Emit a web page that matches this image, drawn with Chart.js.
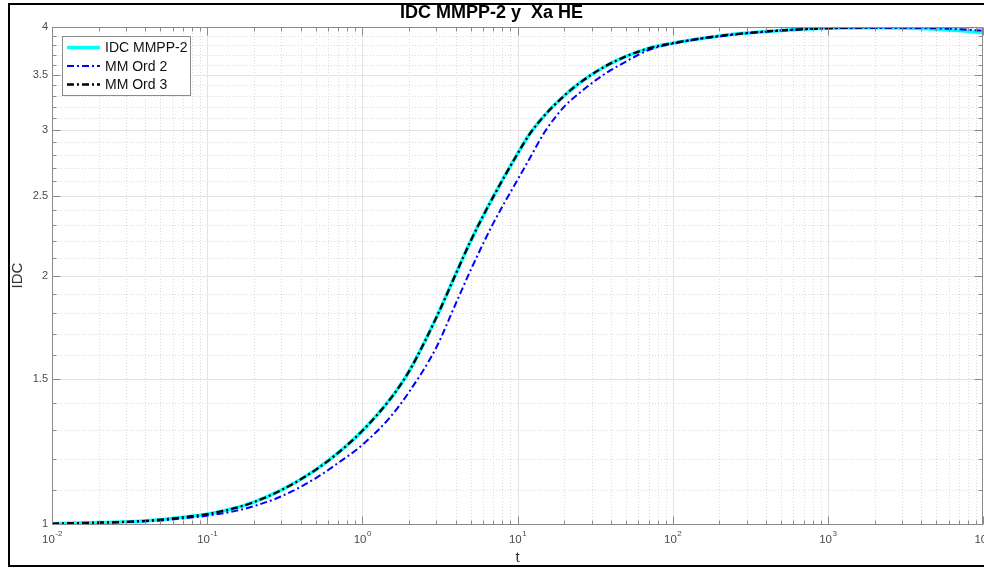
<!DOCTYPE html>
<html>
<head>
<meta charset="utf-8">
<script src="https://cdn.jsdelivr.net/npm/chart.js@4.4.0/dist/chart.umd.min.js"></script>
<style>
  html, body { margin: 0; padding: 0; background: #fff; overflow: hidden; }
  #wrap { position: relative; width: 984px; height: 569px; }
</style>
</head>
<body>
<div id="wrap"><canvas id="grafico"></canvas></div>
<script>
// tiempos t (eje x log) y valores IDC
const tiempos = [0.01, 0.02, 0.03, 0.05, 0.07, 0.1, 0.15, 0.2, 0.3, 0.5, 0.7, 1, 1.5, 2, 3, 4, 5, 7, 10, 12, 15, 20, 25, 35, 50, 70, 100, 150, 200, 300, 500, 1000, 2000, 3000, 5000, 7000, 10000];

const idcMmpp = [1.001, 1.004, 1.006, 1.012, 1.019, 1.028, 1.045, 1.063, 1.099, 1.163, 1.220, 1.297, 1.414, 1.531, 1.779, 2.008, 2.204, 2.494, 2.808, 2.969, 3.129, 3.302, 3.419, 3.566, 3.686, 3.769, 3.824, 3.872, 3.901, 3.933, 3.962, 3.987, 3.992, 3.988, 3.975, 3.960, 3.935];

const mmOrd2 = [1.000, 1.0035, 1.0057, 1.010, 1.0157, 1.0235, 1.0366, 1.051, 1.080, 1.136, 1.186, 1.247, 1.345, 1.445, 1.637, 1.849, 2.032, 2.316, 2.611, 2.774, 2.986, 3.203, 3.326, 3.491, 3.633, 3.751, 3.817, 3.870, 3.897, 3.930, 3.960, 3.985, 3.990, 3.990, 3.985, 3.975, 3.960];

const mmOrd3 = [1.001, 1.004, 1.006, 1.012, 1.019, 1.028, 1.045, 1.063, 1.099, 1.163, 1.220, 1.297, 1.414, 1.531, 1.779, 2.008, 2.204, 2.494, 2.808, 2.969, 3.129, 3.302, 3.419, 3.566, 3.686, 3.769, 3.824, 3.872, 3.901, 3.933, 3.962, 3.987, 3.997, 3.999, 4.0, 4.0, 4.0];

const decadasX = [-2, -1, 0, 1, 2, 3, 4];
const ticksY = [1, 1.5, 2, 2.5, 3, 3.5, 4];

const FUENTE = "'Liberation Sans', Arial, Helvetica, sans-serif";
Chart.defaults.font.family = FUENTE;

function linea(ctx, x1, y1, x2, y2) {
  ctx.beginPath();
  ctx.moveTo(x1, y1);
  ctx.lineTo(x2, y2);
  ctx.stroke();
}

// rejilla, caja de ejes, etiquetas 10^n, leyenda y marco estilo matlab
const estiloMatlab = {
  id: 'estiloMatlab',
  beforeDatasetsDraw(chart) {
    const { ctx, chartArea: a, scales: { x, y } } = chart;
    ctx.save();
    ctx.beginPath();
    ctx.rect(a.left, a.top, a.right - a.left, a.bottom - a.top);
    ctx.clip();
    ctx.lineWidth = 1;

    // menores punteadas
    ctx.strokeStyle = '#dcdcdc';
    ctx.setLineDash([1, 2]);
    decadasX.slice(0, -1).forEach(d => {
      for (let m = 2; m <= 9; m++) {
        const px = Math.round(x.getPixelForValue(m * Math.pow(10, d))) + 0.5;
        linea(ctx, px, a.top, px, a.bottom);
      }
    });
    for (let k = 11; k < 40; k++) {
      if (k % 5 === 0) continue;
      const py = Math.round(y.getPixelForValue(k / 10)) + 0.5;
      linea(ctx, a.left, py, a.right, py);
    }

    // mayores
    ctx.setLineDash([]);
    ctx.strokeStyle = '#e4e4e4';
    decadasX.forEach(d => {
      const px = Math.round(x.getPixelForValue(Math.pow(10, d))) + 0.5;
      linea(ctx, px, a.top, px, a.bottom);
    });
    ticksY.forEach(v => {
      const py = Math.round(y.getPixelForValue(v)) + 0.5;
      linea(ctx, a.left, py, a.right, py);
    });
    ctx.restore();
  },
  afterDraw(chart) {
    const { ctx, chartArea: a, scales: { x, y } } = chart;
    ctx.save();
    const L = a.left + 0.5, R = Math.round(a.right) - 0.5, T = Math.round(a.top) + 0.5, B = Math.round(a.bottom) + 0.5;

    // caja
    ctx.strokeStyle = '#8a8a8a';
    ctx.lineWidth = 1;
    ctx.strokeRect(L, T, R - L, B - T);

    // marcas hacia dentro
    decadasX.forEach((d, i) => {
      const px = Math.round(x.getPixelForValue(Math.pow(10, d))) + 0.5;
      linea(ctx, px, B, px, B - 8);
      linea(ctx, px, T, px, T + 8);
      if (i < decadasX.length - 1) {
        for (let m = 2; m <= 9; m++) {
          const pm = Math.round(x.getPixelForValue(m * Math.pow(10, d))) + 0.5;
          linea(ctx, pm, B, pm, B - 4);
          linea(ctx, pm, T, pm, T + 4);
        }
      }
    });
    for (let k = 10; k <= 40; k++) {
      const py = Math.round(y.getPixelForValue(k / 10)) + 0.5;
      const len = k % 5 === 0 ? 8 : 4;
      linea(ctx, L, py, L + len, py);
      linea(ctx, R, py, R - len, py);
    }

    // etiquetas 10^n
    ctx.fillStyle = '#4a4a4a';
    ctx.textBaseline = 'middle';
    ctx.textAlign = 'left';
    decadasX.forEach(d => {
      const px = x.getPixelForValue(Math.pow(10, d));
      const base = '10', expo = String(d);
      ctx.font = '11.5px ' + FUENTE;
      const wb = ctx.measureText(base).width;
      ctx.font = '8px ' + FUENTE;
      const we = ctx.measureText(expo).width;
      const x0 = px - (wb + we) / 2;
      ctx.font = '11.5px ' + FUENTE;
      ctx.fillText(base, x0, 540);
      ctx.font = '8px ' + FUENTE;
      ctx.fillText(expo, x0 + wb + 0.5, 534);
    });

    // leyenda
    const lx = 62.5, ly = 36.5, lw = 128, lh = 59;
    ctx.fillStyle = '#fff';
    ctx.fillRect(lx, ly, lw, lh);
    ctx.strokeStyle = '#8a8a8a';
    ctx.lineWidth = 1;
    ctx.strokeRect(lx, ly, lw, lh);
    ctx.font = '14px ' + FUENTE;
    ctx.textBaseline = 'middle';
    chart.data.datasets.forEach((ds, i) => {
      const yy = 47.5 + i * 18.5;
      ctx.strokeStyle = ds.borderColor;
      ctx.lineWidth = ds.borderWidth;
      ctx.setLineDash(ds.borderDash || []);
      linea(ctx, 67, yy, 100, yy);
      ctx.setLineDash([]);
      ctx.fillStyle = '#111';
      ctx.fillText(ds.label, 105, yy + 1);
    });

    // marco de la figura
    ctx.strokeStyle = '#000';
    ctx.lineWidth = 2;
    ctx.beginPath();
    ctx.moveTo(990, 4);
    ctx.lineTo(9, 4);
    ctx.lineTo(9, 566);
    ctx.lineTo(990, 566);
    ctx.stroke();
    ctx.restore();
  }
};

function serie(valores) {
  return tiempos.map((t, i) => ({ x: t, y: valores[i] }));
}

const config = {
  type: 'line',
  data: {
    datasets: [
      {
        label: 'IDC MMPP-2',
        data: serie(idcMmpp),
        borderColor: '#00ffff',
        borderWidth: 3.5,
        order: 3
      },
      {
        label: 'MM Ord 2',
        data: serie(mmOrd2),
        borderColor: '#0000ff',
        borderWidth: 2,
        borderDash: [7, 3, 2, 3],
        order: 2
      },
      {
        label: 'MM Ord 3',
        data: serie(mmOrd3),
        borderColor: '#000000',
        borderWidth: 2.3,
        borderDash: [7, 3, 2, 3],
        order: 1
      }
    ]
  },
  options: {
    responsive: true,
    maintainAspectRatio: false,
    animation: false,
    events: [],
    layout: { padding: { left: 0, right: 1, top: 0, bottom: 0 } },
    elements: {
      point: { radius: 0 },
      line: { cubicInterpolationMode: 'monotone', fill: false }
    },
    plugins: {
      legend: { display: false },
      tooltip: { enabled: false },
      title: {
        display: true,
        text: 'IDC MMPP-2 y  Xa HE',
        color: '#000',
        font: { size: 18, weight: 'bold', family: FUENTE },
        padding: { top: 2, bottom: 3.4 }
      }
    },
    scales: {
      x: {
        type: 'logarithmic',
        min: 0.01,
        max: 10000,
        grid: { display: false },
        border: { display: false },
        ticks: { display: false },
        title: {
          display: true,
          text: 't',
          color: '#333',
          font: { size: 15, family: FUENTE },
          padding: { top: 0, bottom: 2 }
        },
        afterFit(scale) { scale.height = 45; }
      },
      y: {
        type: 'logarithmic',
        min: 1,
        max: 4,
        grid: { display: false, drawTicks: false },
        border: { display: false },
        afterBuildTicks(scale) {
          scale.ticks = ticksY.map(v => ({ value: v }));
        },
        ticks: {
          color: '#4a4a4a',
          font: { size: 11, family: FUENTE },
          padding: 4,
          autoSkip: false,
          callback: v => String(v)
        },
        title: {
          display: true,
          text: 'IDC',
          color: '#333',
          font: { size: 15, family: FUENTE },
          padding: { top: 9, bottom: 0 }
        },
        afterFit(scale) { scale.width = 52; }
      }
    }
  },
  plugins: [estiloMatlab]
};

const ctx = document.getElementById('grafico').getContext('2d');
const chart = new Chart(ctx, config);
</script>
</body>
</html>
